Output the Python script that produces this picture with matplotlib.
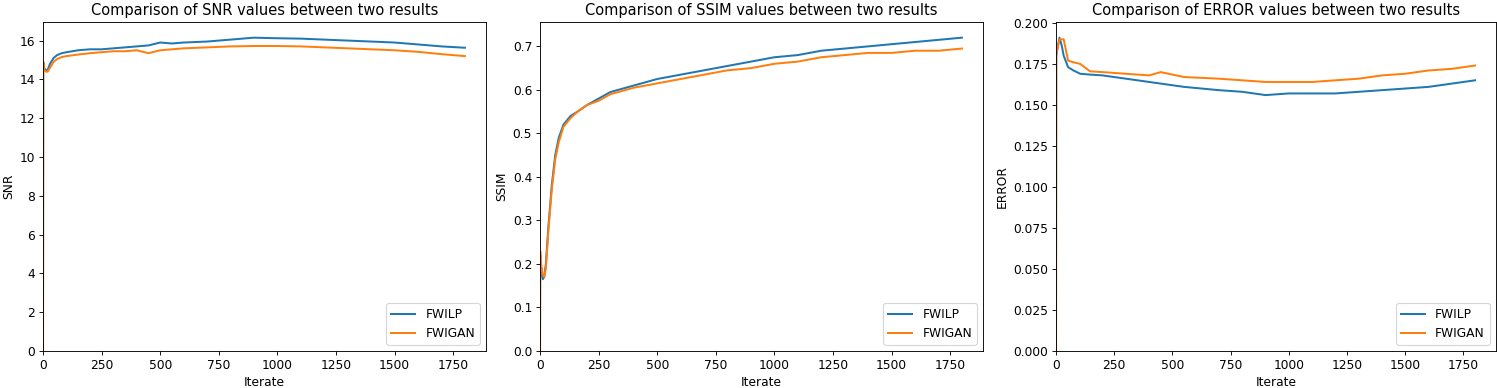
import matplotlib
matplotlib.use('Agg')
import matplotlib.pyplot as plt

snr_it = [0, 1, 5, 12, 20, 30, 45, 60, 80, 100, 150, 200, 250, 300, 350, 400, 450, 500,
          550, 600, 700, 800, 900, 1000, 1100, 1200, 1300, 1400, 1500, 1600, 1700, 1800]
snr_fwilp = [0, 14.9, 14.6, 14.45, 14.5, 14.8, 15.1, 15.25, 15.35, 15.4, 15.5, 15.55, 15.55,
             15.6, 15.65, 15.7, 15.75, 15.9, 15.85, 15.9, 15.95, 16.05, 16.15, 16.12, 16.1,
             16.05, 16.0, 15.95, 15.9, 15.8, 15.7, 15.63]
snr_fwigan = [0, 14.9, 14.5, 14.4, 14.4, 14.6, 14.9, 15.05, 15.15, 15.2, 15.28, 15.35, 15.4,
              15.45, 15.45, 15.5, 15.35, 15.5, 15.55, 15.6, 15.65, 15.7, 15.72, 15.72, 15.7,
              15.65, 15.6, 15.55, 15.5, 15.42, 15.3, 15.2]

ssim_it = [0, 1, 5, 12, 18, 25, 35, 50, 65, 80, 100, 130, 160, 200, 250, 300, 400, 500,
           600, 700, 800, 900, 1000, 1100, 1200, 1300, 1400, 1500, 1600, 1700, 1800]
ssim_fwilp = [0, 0.22, 0.19, 0.165, 0.17, 0.2, 0.28, 0.38, 0.45, 0.49, 0.52, 0.54, 0.55,
              0.565, 0.58, 0.595, 0.61, 0.625, 0.635, 0.645, 0.655, 0.665, 0.675, 0.68,
              0.69, 0.695, 0.7, 0.705, 0.71, 0.715, 0.72]
ssim_fwigan = [0, 0.23, 0.2, 0.175, 0.17, 0.19, 0.27, 0.37, 0.44, 0.48, 0.515, 0.535, 0.55,
               0.565, 0.575, 0.59, 0.605, 0.615, 0.625, 0.635, 0.645, 0.65, 0.66, 0.665,
               0.675, 0.68, 0.685, 0.685, 0.69, 0.69, 0.695]

err_it = [0, 1, 8, 15, 25, 33, 52, 75, 104, 146, 200, 300, 400, 450, 550, 700, 800, 900,
          1000, 1100, 1200, 1300, 1400, 1500, 1600, 1700, 1800]
err_fwilp = [0, 0.18, 0.186, 0.191, 0.186, 0.18, 0.173, 0.171, 0.169, 0.1685, 0.168, 0.166,
             0.164, 0.163, 0.161, 0.159, 0.158, 0.156, 0.157, 0.157, 0.157, 0.158, 0.159,
             0.16, 0.161, 0.163, 0.165]
err_fwigan = [0, 0.181, 0.185, 0.19, 0.19, 0.19, 0.177, 0.176, 0.175, 0.1705, 0.17, 0.169,
              0.168, 0.17, 0.167, 0.166, 0.165, 0.164, 0.164, 0.164, 0.165, 0.166, 0.168,
              0.169, 0.171, 0.172, 0.174]

panels = [
    ('SNR', snr_it, snr_fwilp, snr_fwigan),
    ('SSIM', ssim_it, ssim_fwilp, ssim_fwigan),
    ('ERROR', err_it, err_fwilp, err_fwigan),
]

plt.rcParams['font.size'] = 11
plt.rcParams['lines.linewidth'] = 1.8

W, H = 1497, 388
# axes boxes in pixels: left, right
boxes = [(43, 486), (540, 983), (1056, 1496)]
bottom, top = 351, 22

fig, axes = plt.subplots(1, 3, figsize=(W / 80, H / 80), dpi=80)
for ax, (name, it, a, b), (l, r) in zip(axes, panels, boxes):
    ax.set_position([l / W, 1 - bottom / H, (r - l) / W, (bottom - top) / H])
    ax.plot(it, a, label='FWILP')
    ax.plot(it, b, label='FWIGAN')
    ax.set_xlim(left=0)
    ax.set_ylim(bottom=0)
    ax.set_title('Comparison of %s values between two results' % name)
    ax.set_xlabel('Iterate')
    ax.set_ylabel(name)
    ax.legend(loc='lower right')
axes[2].yaxis.set_major_formatter(matplotlib.ticker.FormatStrFormatter('%.3f'))

plt.savefig('out.png', dpi=80)
